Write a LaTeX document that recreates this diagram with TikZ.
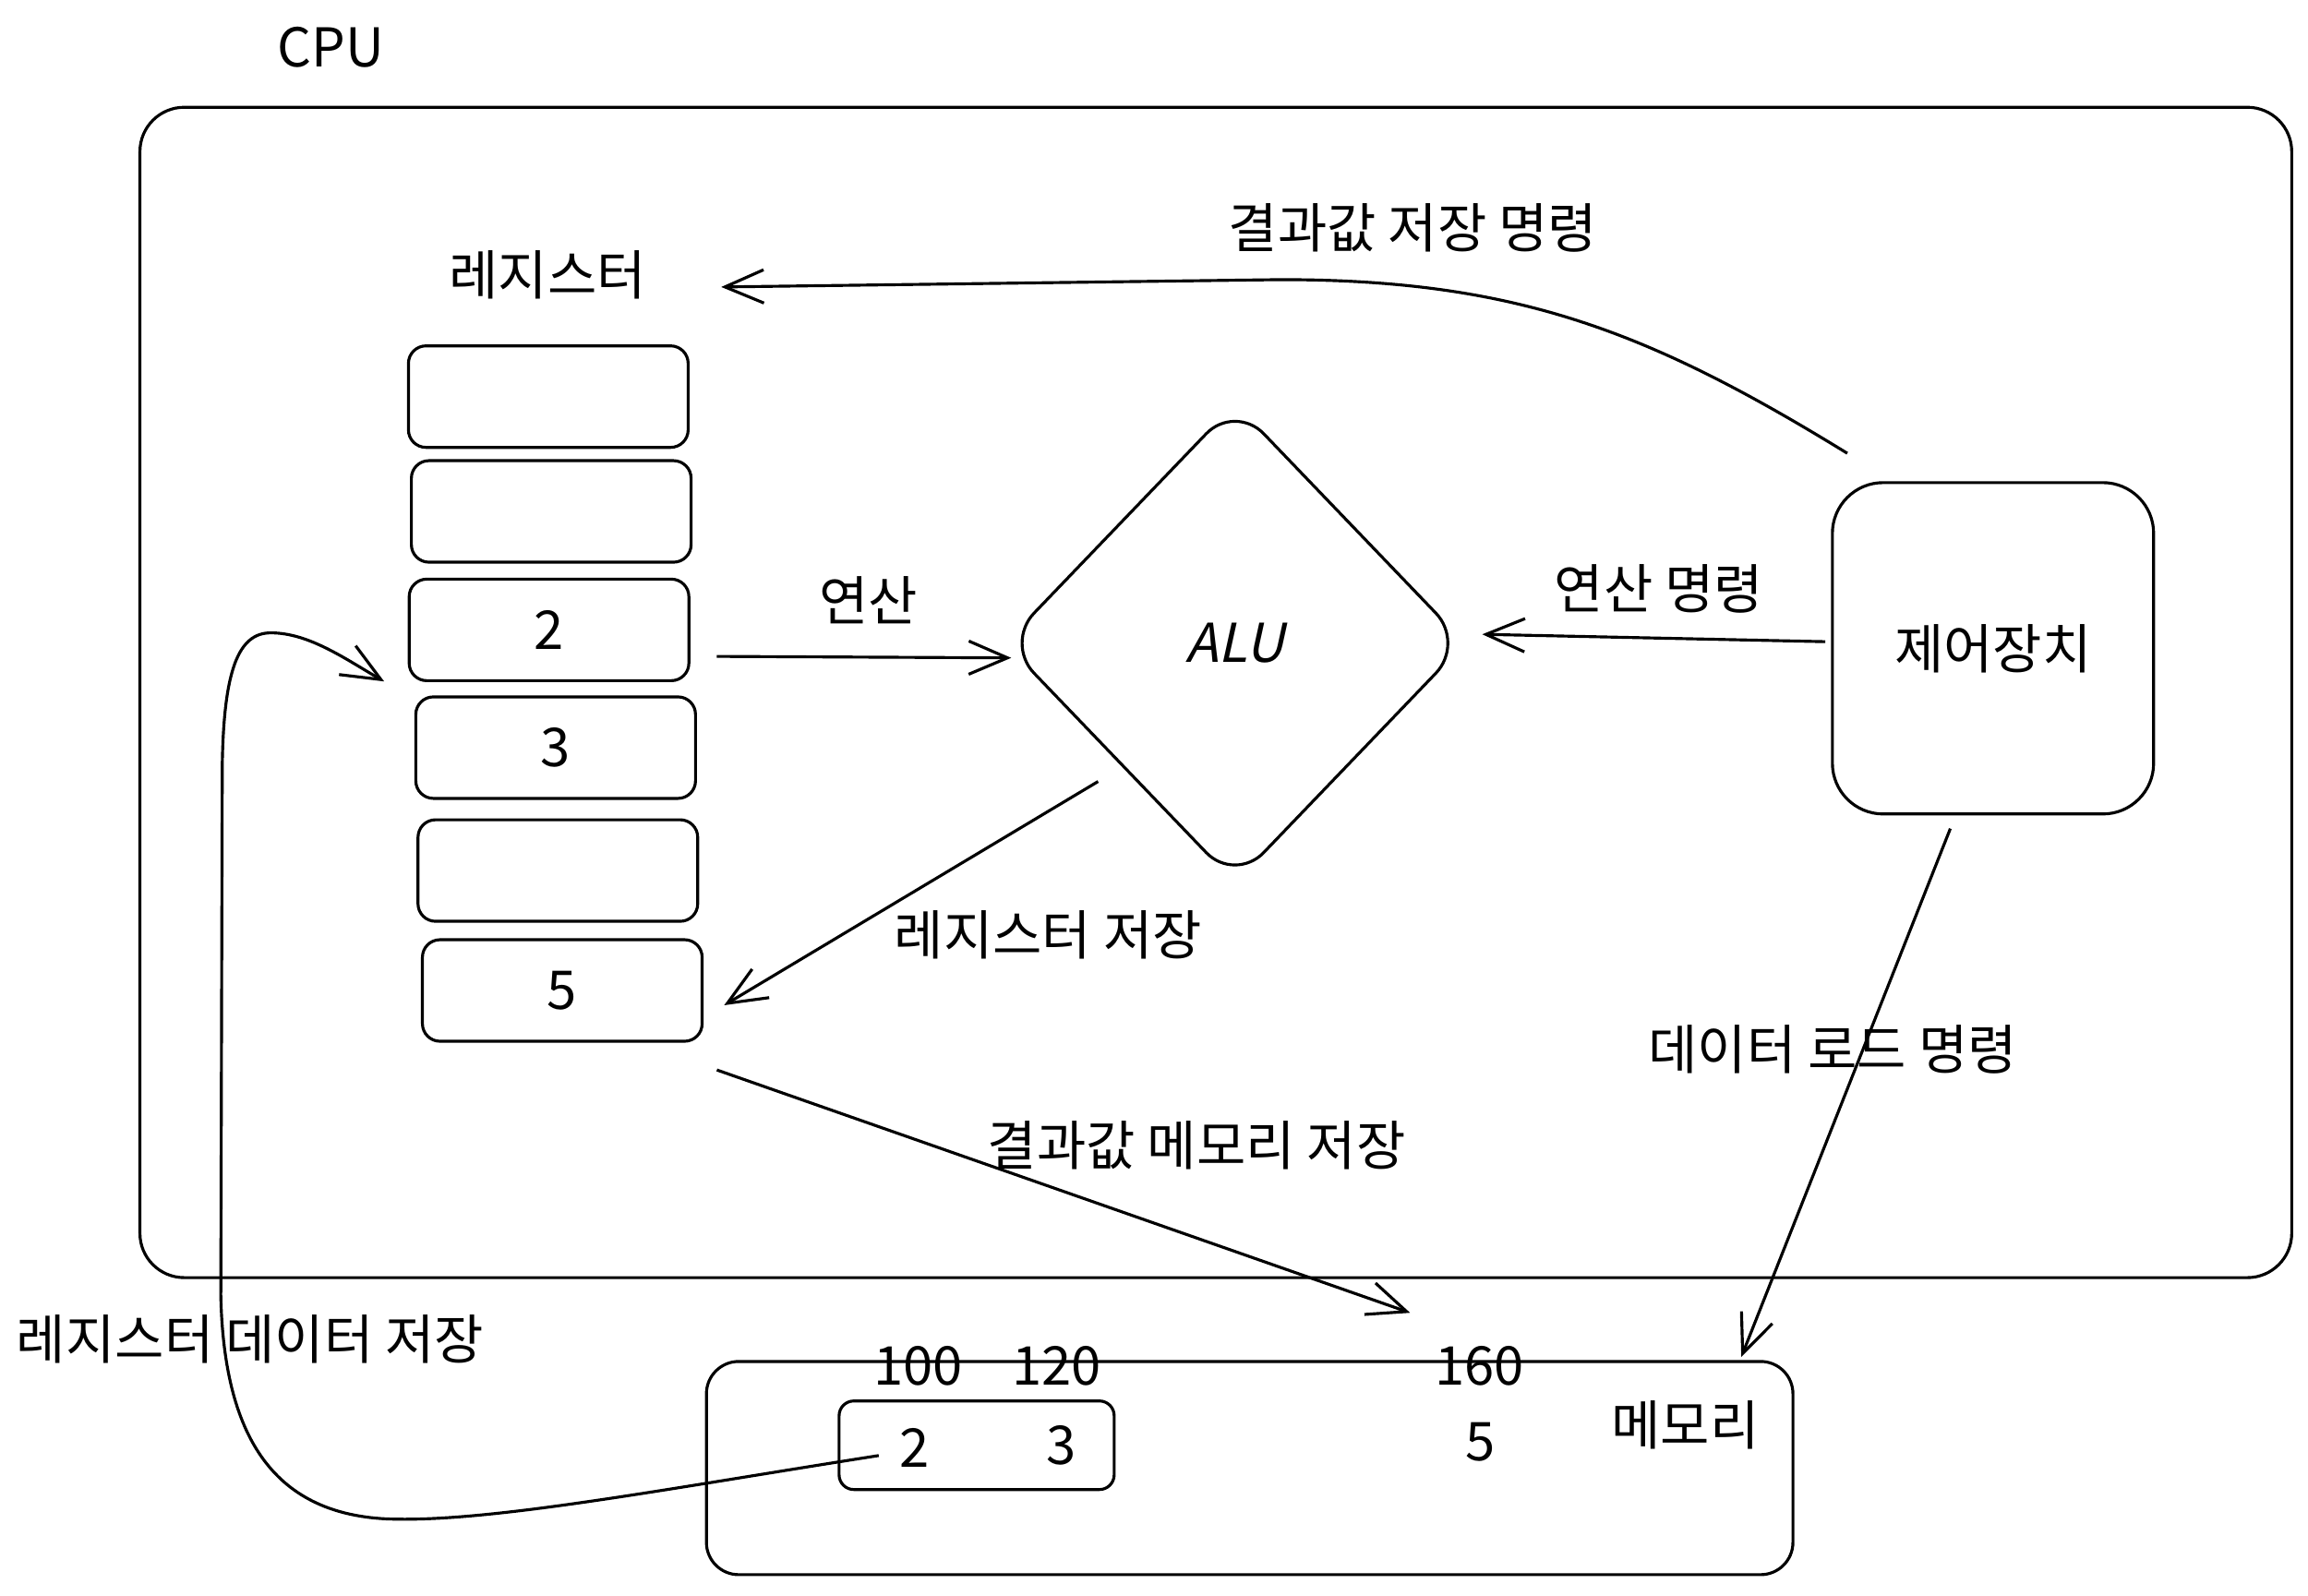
\documentclass[tikz,border=0pt]{standalone}
\usepackage{fontspec}
\setmainfont{Noto Sans CJK KR}
\newfontfamily\slantfont[FakeSlant=0.22]{Noto Sans CJK KR}
\usetikzlibrary{arrows.meta,shapes.geometric}
\begin{document}
\begin{tikzpicture}[x=0.015944cm,y=-0.015944cm,
  every node/.style={font=\fontsize{16.5}{19}\selectfont, inner sep=0pt},
  lbl/.style={},
  regcell/.style={draw, line width=0.9pt, rounded corners=0.19cm, minimum width=3.03cm, minimum height=1.10cm},
  conn/.style={draw, line width=0.9pt, -{Straight Barb[length=4.2mm,width=3.6mm,line width=0.9pt]}},
  plain/.style={draw, line width=0.9pt}]
\useasboundingbox (0,0) rectangle (1568,1084);

% CPU
\node[lbl] (cpulabel) at (225,32) {CPU};
\node[draw, line width=0.9pt, rounded corners=0.48cm, minimum width=23.31cm, minimum height=12.68cm] (cpu) at (826,470.5) {};

% registers
\node[lbl] (reglabel) at (372,187) {레지스터};
\node[regcell] (r1) at (372.5,269.5) {};
\node[regcell] (r2) at (374.5,347.5) {};
\node[regcell] (r3) at (373,428) {2};
\node[regcell] (r4) at (377.5,508) {3};
\node[regcell] (r5) at (379,591.5) {};
\node[regcell] (r6) at (382,673) {5};

% ALU
\node[draw, line width=0.9pt, diamond, rounded corners=0.45cm, minimum width=4.99cm, minimum height=5.20cm] (alu) at (839,437) {\slantfont ALU};

% control unit
\node[draw, line width=0.9pt, rounded corners=0.55cm, minimum width=3.48cm, minimum height=3.59cm] (ctrl) at (1354,440.5) {제어장치};

% memory
\node[draw, line width=0.9pt, rounded corners=0.35cm, minimum width=11.77cm, minimum height=2.31cm] (mem) at (849,997.5) {};
\node[lbl] (memlabel) at (1145,968) {메모리};
\node[draw, line width=0.9pt, rounded corners=0.16cm, minimum width=2.98cm, minimum height=0.96cm] (mcell) at (663.5,982) {};
\node[lbl] (m2) at (621,984) {2};
\node[lbl] (m3) at (721,982) {3};
\node[lbl] (m5) at (1006,980) {5};
\node[lbl] (a100) at (624,928) {100};
\node[lbl] (a120) at (718,928) {120};
\node[lbl] (a160) at (1005,928) {160};

% connector end points
\coordinate (s1) at (1255,308);
\coordinate (e1) at (490,195);
\coordinate (s2) at (487,446);
\coordinate (e2) at (687,447);
\coordinate (s3) at (1240,436);
\coordinate (e3) at (1007,431);
\coordinate (s4) at (746,531);
\coordinate (e4) at (492,683);
\coordinate (s5) at (487,727);
\coordinate (e5) at (958,892);
\coordinate (s6) at (1325,563);
\coordinate (e6) at (1183,922);
\coordinate (s7) at (597,989);
\coordinate (e7) at (261,463);

% connectors
\draw[conn] (s1) .. controls (1120,225) and (1030,190) .. (870,190) -- (e1);
\draw[conn] (s2) -- (e2);
\draw[conn] (s3) -- (e3);
\draw[conn] (s4) -- (e4);
\draw[conn] (s5) -- (e5);
\draw[conn] (s6) -- (e6);
\draw[conn] (s7) .. controls (450,1012) and (330,1035) .. (262,1032)
   .. controls (185,1028) and (152,975) .. (150,880)
   -- (151,520)
   .. controls (152,455) and (162,430) .. (184,430)
   .. controls (210,430) and (235,448) .. (e7);

% connector labels
\node[lbl] (l1) at (960,155) {결과값 저장 명령};
\node[lbl] (l2) at (590,408) {연산};
\node[lbl] (l3) at (1127,400) {연산 명령};
\node[lbl] (l4) at (712,635) {레지스터 저장};
\node[lbl] (l5) at (813,778) {결과값 메모리 저장};
\node[lbl] (l6) at (1245,713) {데이터 로드 명령};
\node[lbl] (l7) at (170,910) {레지스터 데이터 저장};
\end{tikzpicture}
\end{document}
